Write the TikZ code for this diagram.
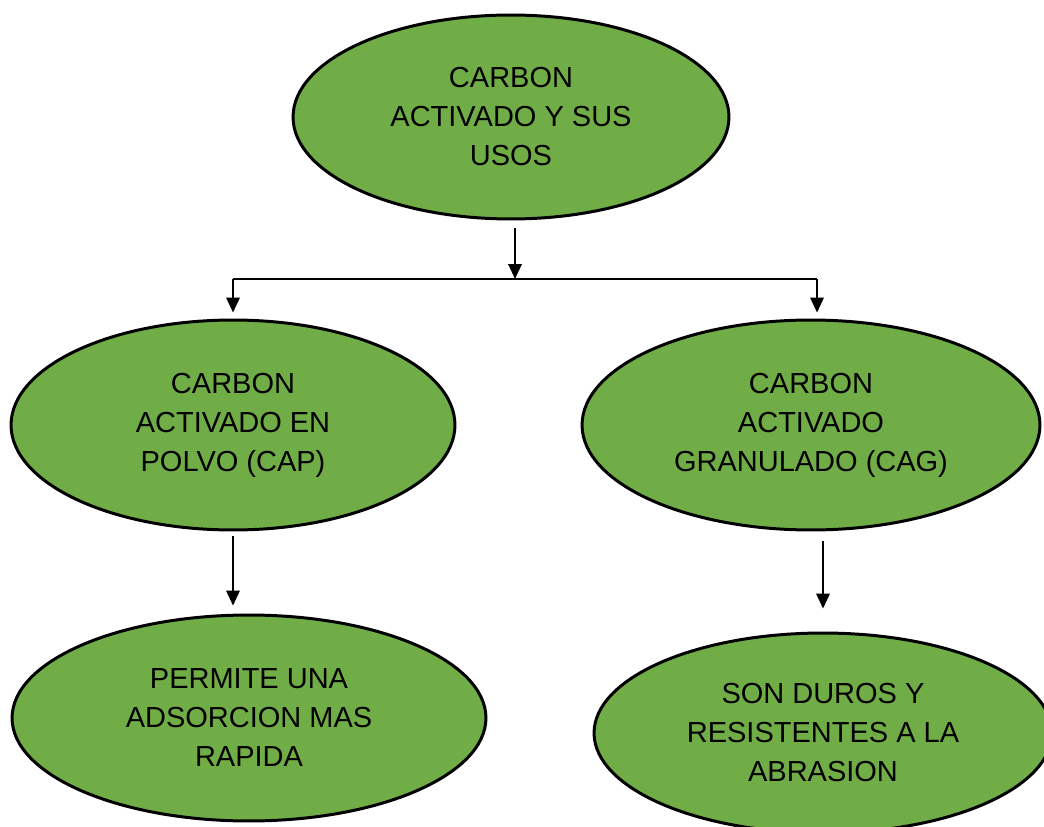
\documentclass[tikz,border=0pt]{standalone}
\usepackage{fontspec}
\setmainfont{Liberation Sans}
\usepackage{tikz}
\usetikzlibrary{shapes.geometric}
\usetikzlibrary{arrows.meta}

\definecolor{hojaverde}{HTML}{70AD47}

\tikzset{
	burbuja/.style={ellipse,draw=black,fill=hojaverde,line width=1.7pt,inner sep=0pt,
		align=center,font=\fontsize{16.5}{22.2}\selectfont},
	flecha/.style={line width=1.1pt,-{Triangle[length=0.3cm,width=0.27cm]}},
	linea/.style={line width=1.1pt}
}

\begin{document}
\begin{tikzpicture}[x=0.02cm,y=-0.02cm]
	\useasboundingbox (0,0) rectangle (1044,827);
	
	\node [burbuja,minimum width=8.72cm,minimum height=4.08cm] (usos) at (511, 117) {CARBON\\ACTIVADO Y SUS\\USOS};
	
	\node [burbuja,minimum width=8.88cm,minimum height=4.2cm] (cap) at (233, 425) {CARBON\\ACTIVADO EN\\POLVO (CAP)};
	\node [burbuja,minimum width=9.16cm,minimum height=4.2cm] (cag) at (811, 425) {CARBON\\ACTIVADO\\GRANULADO (CAG)};
	
	\node [burbuja,minimum width=9.48cm,minimum height=4.12cm] (rapida) at (249, 718) {PERMITE UNA\\ADSORCION MAS\\RAPIDA};
	\node [burbuja,minimum width=9.16cm,minimum height=4cm] (abrasion) at (823, 733) {SON DUROS Y\\RESISTENTES A LA\\ABRASION};
	
	\coordinate (split) at (515, 279);
	\coordinate (ramaizq) at (233, 279);
	\coordinate (ramader) at (817, 279);
	
	\draw [flecha,shorten <=0.16cm] (usos.south -| split) -- (split);
	\draw [linea] (ramaizq) -- (ramader);
	\draw [flecha,shorten >=0.12cm] (ramaizq) -- (ramaizq |- cap.north);
	\draw [flecha,shorten >=0.12cm] (ramader) -- (ramader |- cag.north);
	
	\draw [flecha,shorten <=0.1cm,shorten >=0.16cm] (cap.south) -- (cap.south |- rapida.north);
	\draw [flecha,shorten <=0.2cm,shorten >=0.46cm] (abrasion.north |- cag.south) -- (abrasion.north);
\end{tikzpicture}
\end{document}
